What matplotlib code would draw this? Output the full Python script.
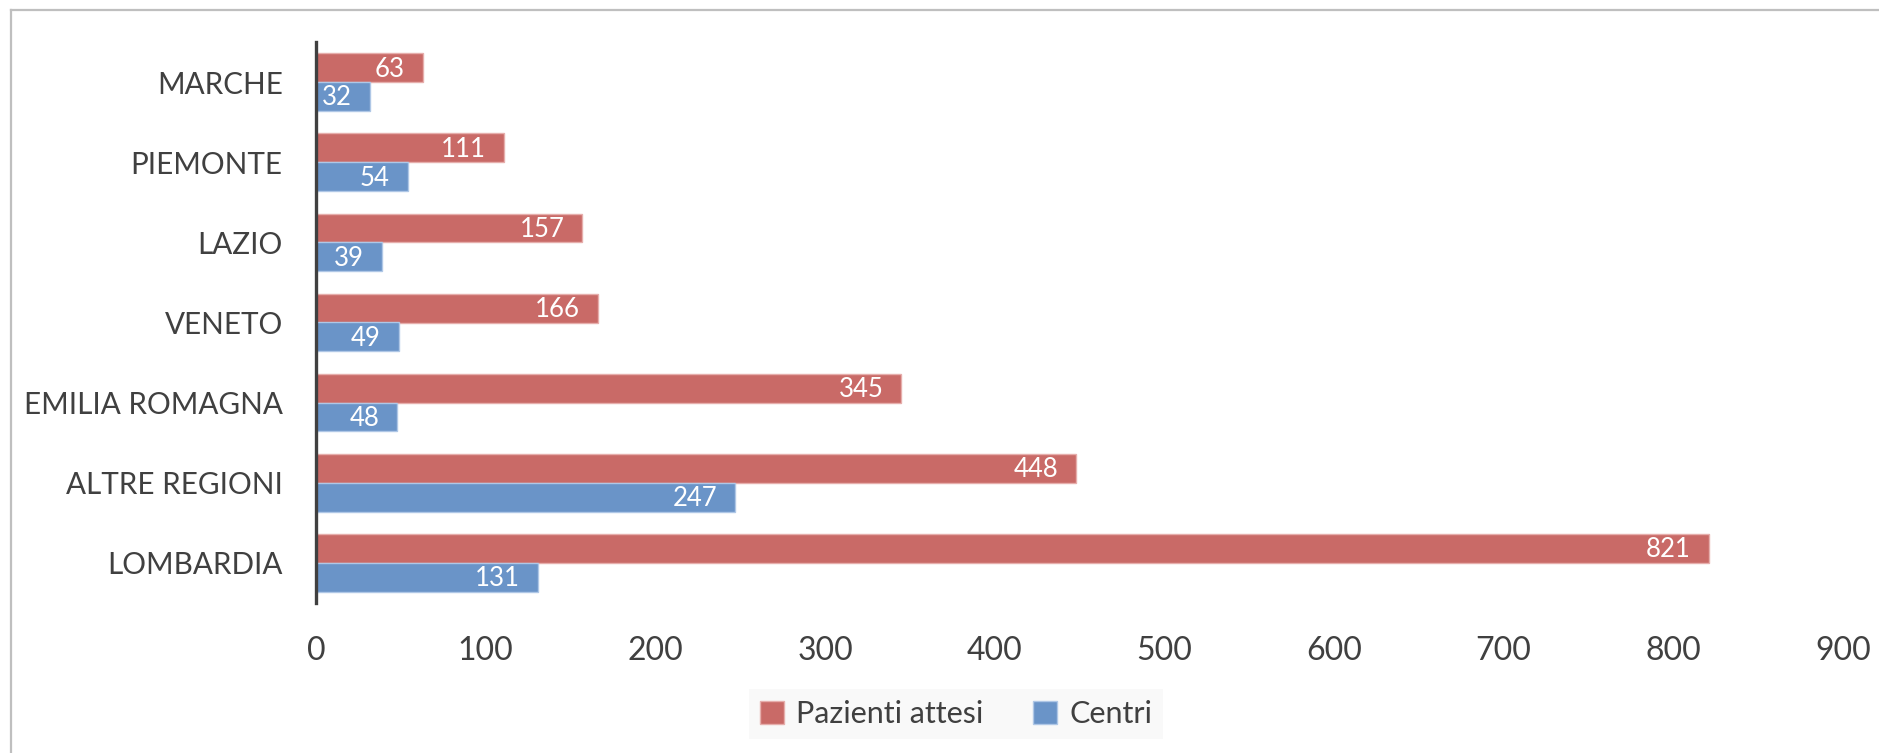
import matplotlib
matplotlib.use("Agg")
import matplotlib.pyplot as plt
from matplotlib.lines import Line2D
import numpy as np

plt.rcParams["font.family"] = ["Lato", "DejaVu Sans"]

regioni = ["LOMBARDIA", "ALTRE REGIONI", "EMILIA ROMAGNA", "VENETO", "LAZIO", "PIEMONTE", "MARCHE"]
pazienti = [821, 448, 345, 166, 157, 111, 63]
centri = [131, 247, 48, 49, 39, 54, 32]

ROSSO = "#C96A67"
BLU = "#6A94C8"
TESTO = "#404040"

W, H = 1879, 753
fig = plt.figure(figsize=(W / 100, H / 100), dpi=100)
ax = fig.add_axes([316 / W, 1 - 603 / H, (1843 - 316) / W, (603 - 42) / H])

y = np.arange(len(regioni))
h = 0.36
b1 = ax.barh(y + h / 2, pazienti, height=h, color=ROSSO, edgecolor="#E6AEAC",
             linewidth=1, label="Pazienti attesi")
b2 = ax.barh(y - h / 2, centri, height=h, color=BLU, edgecolor="#AFC7E6",
             linewidth=1, label="Centri")

for bars, vals in ((b1, pazienti), (b2, centri)):
    for bar, v in zip(bars, vals):
        ax.annotate(str(v), (v, bar.get_y() + bar.get_height() / 2),
                    xytext=(-13, -1), textcoords="offset points",
                    ha="right", va="center", color="white", fontsize=18.5)

ax.set_xlim(0, 900)
ax.set_ylim(-0.5, len(regioni) - 0.5)
ax.set_xticks(range(0, 901, 100))
ax.set_yticks(y)
ax.set_yticklabels(regioni)
ax.tick_params(axis="both", length=0, colors=TESTO)
ax.tick_params(axis="y", pad=24, labelsize=21.3)
ax.tick_params(axis="x", pad=24, labelsize=23)

for s in ("top", "right", "bottom"):
    ax.spines[s].set_visible(False)
ax.spines["left"].set_color(TESTO)
ax.spines["left"].set_linewidth(2.4)

leg = fig.legend(handles=[b1, b2], loc="center", bbox_to_anchor=(956 / W, 1 - 714 / H),
                 ncol=2, fontsize=22, frameon=True, facecolor="#F8F8F8", edgecolor="none",
                 fancybox=False, handlelength=0.8, handleheight=0.8, handletextpad=0.4,
                 columnspacing=1.6, borderpad=0.35)
for t in leg.get_texts():
    t.set_color(TESTO)

# cornice grigia (solo lati superiore e sinistro visibili)
fig.add_artist(Line2D([11 / W, 1], [1 - 10 / H, 1 - 10 / H], color="#BFBFBF", lw=1.6))
fig.add_artist(Line2D([11 / W, 11 / W], [0, 1 - 10 / H], color="#BFBFBF", lw=1.6))

fig.savefig("out.png", dpi=100, facecolor="white")
